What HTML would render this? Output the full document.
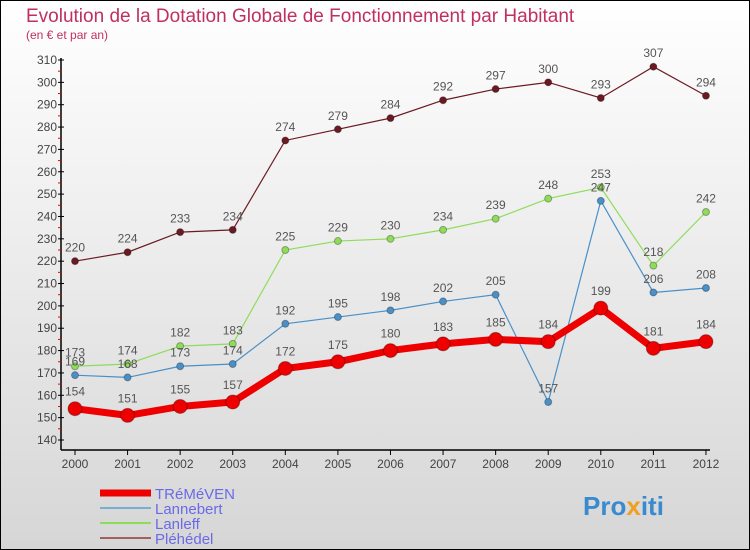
<!DOCTYPE html>
<html><head><meta charset="utf-8"><style>
body{margin:0}
svg{display:block;font-family:"Liberation Sans",sans-serif}
</style></head><body>
<svg width="750" height="550">
<defs><linearGradient id="bg" x1="0" y1="0" x2="0" y2="1"><stop offset="0" stop-color="#ffffff"/><stop offset="1" stop-color="#d6d6d6"/></linearGradient></defs>
<rect x="0.5" y="0.5" width="749" height="549" fill="url(#bg)" stroke="#000"/>
<text x="26" y="22" font-size="19" fill="#c0305e">Evolution de la Dotation Globale de Fonctionnement par Habitant</text>
<text x="26" y="39" font-size="12" fill="#c0305e">(en € et par an)</text>
<g id="axes"></g><g id="series"></g><g id="legend"></g>
</svg>
<script>
const years=[2000,2001,2002,2003,2004,2005,2006,2007,2008,2009,2010,2011,2012];
const treme=[154,151,155,157,172,175,180,183,185,184,199,181,184];
const lanne=[169,168,173,174,192,195,198,202,205,157,247,206,208];
const lanle=[173,174,182,183,225,229,230,234,239,248,253,218,242];
const plehe=[220,224,233,234,274,279,284,292,297,300,293,307,294];
const yTicks=[140,150,160,170,180,190,200,210,220,230,240,250,260,270,280,290,300,310];
const NS="http://www.w3.org/2000/svg";
const X=i=>75+i*52.58;
const Y=v=>440-(v-140)*380/170;
function mk(t,a,p){const e=document.createElementNS(NS,t);for(const k in a)e.setAttribute(k,a[k]);p.appendChild(e);return e;}
const ax=document.getElementById('axes');
let l=mk('line',{x1:61,y1:58,x2:61,y2:450,stroke:'#000','stroke-width':1.5},ax);


l=mk('line',{x1:61,y1:450,x2:710,y2:450,stroke:'#000','stroke-width':1.5},ax);


yTicks.forEach((v,i)=>{
  mk('line',{x1:58,y1:Y(v),x2:64,y2:Y(v),stroke:'#000'},ax);
  if(i<yTicks.length-1) mk('line',{x1:58,y1:Y(v+5),x2:61,y2:Y(v+5),stroke:'#e00'},ax);
  const t=mk('text',{x:57,y:Y(v)+4,'font-size':12,'text-anchor':'end',fill:'#444'},ax);
  t.textContent=v;
  
  
});
years.forEach((y,i)=>{
  mk('line',{x1:X(i),y1:450,x2:X(i),y2:455,stroke:'#000'},ax);
  const t=mk('text',{x:X(i),y:468,'font-size':12,'text-anchor':'middle',fill:'#444'},ax);
  t.textContent=y;
  
  
});
const sg=document.getElementById('series');
const series=[
 {n:'plehedel',d:plehe,c:'#6b1a22',w:1.2,r:3.5},
 {n:'lanleff',d:lanle,c:'#8fdc5a',w:1.2,r:3.5},
 {n:'lannebert',d:lanne,c:'#4a90c8',w:1.2,r:3.5},
 {n:'tremeven',d:treme,c:'#ee0000',w:7,r:7}];
series.forEach(s=>{
  const g=mk('g',{},sg);
  
  
  const p=mk('polyline',{points:s.d.map((v,i)=>X(i)+','+Y(v)).join(' '),fill:'none',stroke:s.c,'stroke-width':s.w},g);
  
  
  s.d.forEach((v,i)=>{
    const c=mk('circle',{cx:X(i),cy:Y(v),r:s.r,fill:s.c,stroke:'rgba(0,0,0,0.3)'},g);
    
    
    const t=mk('text',{x:X(i),y:Y(v)-(s.r+6),'font-size':12,'text-anchor':'middle',fill:'#555'},g);
    t.textContent=v;
    
    
  });
});
const lg=document.getElementById('legend');
[['TRéMéVEN','#ee0000',7],['Lannebert','#7aaed0',2],['Lanleff','#8fdc5a',2],['Pléhédel','#a06060',2]].forEach((e,i)=>{
  const y=493+i*15;
  const g=mk('g',{},lg);
  
  
  mk('line',{x1:100,y1:y,x2:151,y2:y,stroke:e[1],'stroke-width':e[2]},g);
  const t=mk('text',{x:155,y:y+6,'font-size':15,fill:'#6a6ae8'},g);
  t.textContent=e[0];
});
const lt=mk('text',{x:583,y:515,'font-size':26,'font-weight':'bold'},lg);


[['Pro','#3a8ad0'],['x','#f0a020'],['iti','#3a8ad0']].forEach(p=>{const s=mk('tspan',{fill:p[1]},lt);s.textContent=p[0];});
</script>
</body></html>
